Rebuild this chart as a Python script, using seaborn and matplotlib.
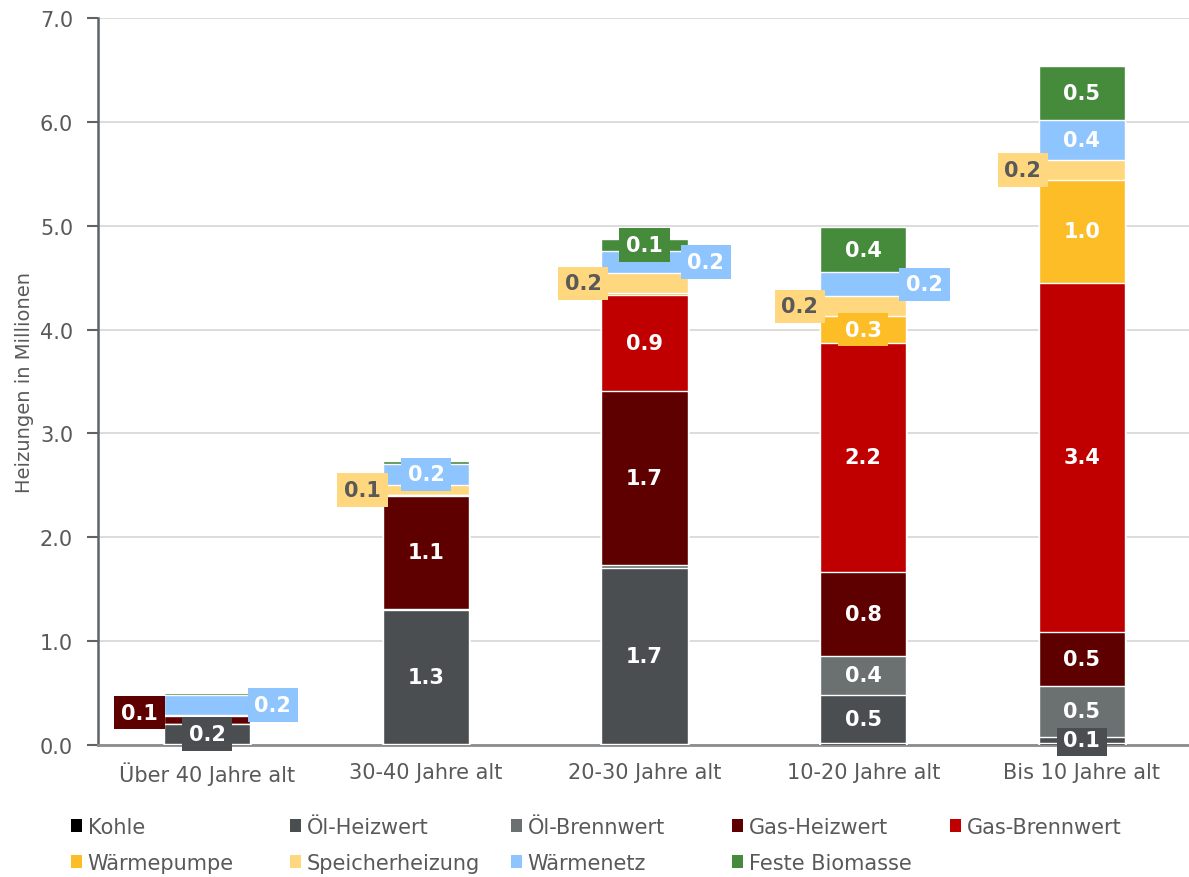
import pandas as pd
import matplotlib.pyplot as plt
import seaborn as sns
from matplotlib.patches import Patch

# Daten (Heizungen in Millionen, nach Alter)
categories = ["Über 40 Jahre alt", "30-40 Jahre alt", "20-30 Jahre alt",
              "10-20 Jahre alt", "Bis 10 Jahre alt"]
series = ["Kohle", "Öl-Heizwert", "Öl-Brennwert", "Gas-Heizwert", "Gas-Brennwert",
          "Wärmepumpe", "Speicherheizung", "Wärmenetz", "Feste Biomasse"]

kohle = [0.01, 0.01, 0.01, 0.02, 0.02]
oel_heizwert = [0.19, 1.29, 1.69, 0.46, 0.06]
oel_brennwert = [0.00, 0.01, 0.03, 0.38, 0.49]
gas_heizwert = [0.08, 1.09, 1.68, 0.81, 0.52]
gas_brennwert = [0.00, 0.01, 0.92, 2.20, 3.36]
waermepumpe = [0.00, 0.00, 0.02, 0.26, 0.99]
speicherheizung = [0.01, 0.09, 0.19, 0.19, 0.19]
waermenetz = [0.19, 0.21, 0.22, 0.23, 0.39]
biomasse = [0.02, 0.02, 0.11, 0.44, 0.52]

werte = [kohle, oel_heizwert, oel_brennwert, gas_heizwert, gas_brennwert,
         waermepumpe, speicherheizung, waermenetz, biomasse]

farben = {
    "Kohle": "#000000",
    "Öl-Heizwert": "#4a4e50",
    "Öl-Brennwert": "#6b7070",
    "Gas-Heizwert": "#5f0000",
    "Gas-Brennwert": "#c00000",
    "Wärmepumpe": "#fdbd26",
    "Speicherheizung": "#ffd77e",
    "Wärmenetz": "#8ec5ff",
    "Feste Biomasse": "#468a3c",
}

# Verschiebung kleiner Beschriftungen (dx in Kategorien, dy in Mio.)
label_offset = {
    (0, "Gas-Heizwert"): (-0.31, 0.07),
    (0, "Wärmenetz"): (0.30, 0.0),
    (1, "Speicherheizung"): (-0.29, 0.0),
    (2, "Speicherheizung"): (-0.28, 0.0),
    (2, "Wärmenetz"): (0.28, 0.0),
    (3, "Speicherheizung"): (-0.29, 0.0),
    (3, "Wärmenetz"): (0.28, 0.0),
    (4, "Speicherheizung"): (-0.27, 0.0),
}

textgrau = "#595959"
sns.set_theme(style="white")
plt.rcParams["font.family"] = ["DejaVu Sans"]

df = pd.DataFrame({s: v for s, v in zip(series, werte)}, index=categories)
cum = df.cumsum(axis=1)

fig = plt.figure(figsize=(11.89, 8.78), dpi=100)
ax = fig.add_axes([98 / 1189, 1 - 746 / 878, 1 - 98 / 1189, (746 - 19) / 878])

# gestapelt: von oben nach unten zeichnen
for s in reversed(series):
    d = pd.DataFrame({"Kategorie": categories, "Wert": cum[s].values})
    sns.barplot(data=d, x="Kategorie", y="Wert", order=categories, color=farben[s],
                saturation=1, width=0.395, edgecolor="white", linewidth=1,
                errorbar=None, ax=ax, zorder=3)

# Beschriftungen
for i, cat in enumerate(categories):
    for s in series:
        v = df.loc[cat, s]
        if v < 0.06:
            continue
        dx, dy = label_offset.get((i, s), (0.0, 0.0))
        y = cum.loc[cat, s] - v / 2 + dy
        tc = textgrau if s == "Speicherheizung" else "white"
        ax.text(i + dx, y, f"{v:.1f}", ha="center", va="center", color=tc,
                fontsize=15, fontweight="bold", zorder=5,
                bbox=dict(boxstyle="square,pad=0.32", facecolor=farben[s], edgecolor="none"))

ax.set_ylim(0, 7)
ax.set_xlim(-0.5, 4.49)
ax.set_yticks([0, 1, 2, 3, 4, 5, 6, 7])
ax.set_yticklabels([f"{t:.1f}" for t in range(8)])
ax.yaxis.grid(True, color="#d9d9d9", linewidth=1.3, zorder=0)
ax.set_axisbelow(True)
ax.set_xlabel("")
ax.set_ylabel("Heizungen in Millionen", fontsize=14, color=textgrau)
ax.yaxis.set_label_coords(-0.059, 0.5)

for side in ["top", "right"]:
    ax.spines[side].set_visible(False)
ax.spines["left"].set_color("#5f6466")
ax.spines["left"].set_linewidth(1.8)
ax.spines["bottom"].set_color("#8c8c8c")
ax.spines["bottom"].set_linewidth(2)

ax.tick_params(axis="y", which="major", left=True, length=8, width=1.5, color="#5f6466",
               pad=10, labelsize=15, labelcolor=textgrau)
ax.tick_params(axis="x", length=0, pad=12, labelsize=15, labelcolor=textgrau)

# Legende in Spalten wie im Original
spalten = [["Kohle", "Wärmepumpe"], ["Öl-Heizwert", "Speicherheizung"],
           ["Öl-Brennwert", "Wärmenetz"], ["Gas-Heizwert", "Feste Biomasse"],
           ["Gas-Brennwert"]]
x_links = [71, 290, 511, 732, 950]
for xs, namen in zip(x_links, spalten):
    handles = [Patch(facecolor=farben[n], edgecolor="none", label=n) for n in namen]
    fig.legend(handles=handles, loc="upper left", bbox_to_anchor=(xs / 1189, 1 - 818 / 878),
               frameon=False, fontsize=15, labelcolor=textgrau, handlelength=0.55,
               handleheight=0.55, handletextpad=0.25, borderpad=0, borderaxespad=0,
               labelspacing=0.75)

fig.savefig("out.png", dpi=100)
